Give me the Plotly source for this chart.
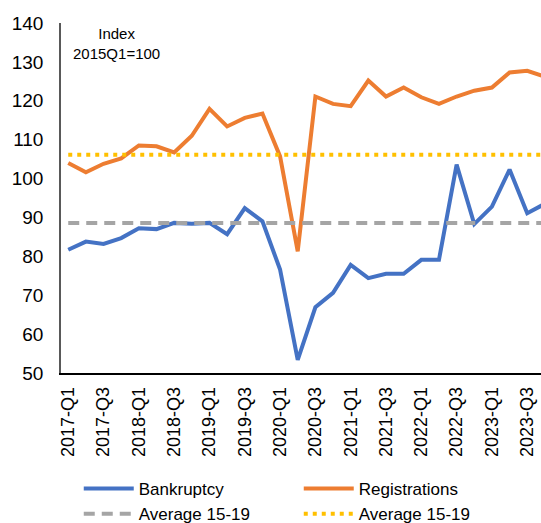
import plotly.graph_objects as go

quarters = [f"{y}-Q{q}" for y in range(2017, 2024) for q in range(1, 5)]
bankruptcy = [81.7, 83.8, 83.2, 84.7, 87.2, 87.0, 88.6, 88.4, 88.6, 85.7, 92.4, 89.0,
              76.6, 53.4, 66.9, 70.6, 77.8, 74.4, 75.5, 75.5, 79.1, 79.1, 103.6, 88.3,
              92.8, 102.3, 91.1, 93.5]
registrations = [104.0, 101.6, 103.8, 105.2, 108.5, 108.3, 106.7, 111.0, 117.9, 113.4, 115.6, 116.7,
                 105.7, 81.3, 121.1, 119.2, 118.6, 125.2, 121.1, 123.4, 120.9, 119.2, 121.1, 122.6,
                 123.4, 127.3, 127.7, 126.2]
avg_bankruptcy = 88.6
avg_registrations = 106.1
tick_labels = quarters[::2]

fig = go.Figure()
fig.add_trace(go.Scatter(x=quarters, y=bankruptcy, mode="lines", name="Bankruptcy",
                         line=dict(color="#4472C4", width=4)))
fig.add_trace(go.Scatter(x=quarters, y=registrations, mode="lines", name="Registrations",
                         line=dict(color="#ED7D31", width=4)))
fig.add_trace(go.Scatter(x=quarters, y=[avg_bankruptcy] * len(quarters), mode="lines",
                         name="Average 15-19",
                         line=dict(color="#A5A5A5", width=4, dash="11px,7px")))
fig.add_trace(go.Scatter(x=quarters, y=[avg_registrations] * len(quarters), mode="lines",
                         name="Average 15-19",
                         line=dict(color="#FFC000", width=4, dash="4px,5px")))

fig.add_annotation(text="Index<br>2015Q1=100", xref="x domain", yref="y domain",
                   x=0.115, y=1.0, xanchor="center", yanchor="top",
                   showarrow=False, font=dict(size=15, color="#000000"))

fig.update_layout(
    width=541, height=523,
    margin=dict(l=61, r=0, t=23, b=150, autoexpand=False),
    paper_bgcolor="white", plot_bgcolor="white",
    font=dict(family="Liberation Sans, Arial, sans-serif", color="#000000"),
    showlegend=True,
    legend=dict(orientation="h", x=0.037, xanchor="left", y=-0.28, yanchor="top",
                entrywidth=155, font=dict(size=17), tracegroupgap=0,
                itemwidth=50),
)
fig.update_xaxes(type="category", categoryorder="array", categoryarray=quarters,
                 range=[-0.41, 26.78], tickmode="array", tickvals=tick_labels,
                 ticktext=tick_labels, tickangle=-90, tickfont=dict(size=18),
                 showline=True, linecolor="#000000", linewidth=1.5, showgrid=False,
                 ticks="", zeroline=False, automargin=False, ticklabelstandoff=5)
fig.update_yaxes(range=[50, 140], dtick=10, tickfont=dict(size=19),
                 showline=True, linecolor="#595959", linewidth=1.5, showgrid=False,
                 ticks="", zeroline=False, ticklabelstandoff=12, automargin=False)

fig.write_html("out.html", config={"displayModeBar": False},
               post_script="document.body.style.margin='0';document.body.style.overflow='hidden';")
